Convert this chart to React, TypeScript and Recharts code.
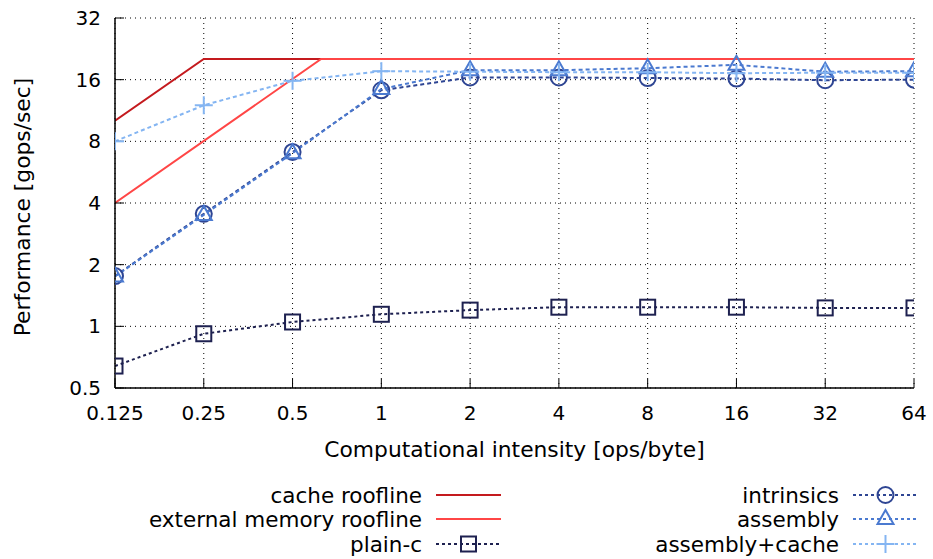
import React from 'react';
import { ComposedChart, Line, XAxis, YAxis, CartesianGrid, Label } from 'recharts';

const intensity = [0.125, 0.25, 0.5, 1, 2, 4, 8, 16, 32, 64];
const plainC = [0.64, 0.92, 1.05, 1.145, 1.2, 1.24, 1.24, 1.24, 1.23, 1.23];
const intrinsics = [1.76, 3.54, 7.1, 14.2, 16.4, 16.4, 16.3, 16.2, 15.9, 16.0];
const assembly = [1.75, 3.5, 7.0, 14.4, 17.8, 17.8, 18.2, 18.9, 17.5, 17.6];
const assemblyCache = [8.0, 12.0, 15.8, 17.6, 17.5, 17.4, 17.4, 17.2, 17.3, 17.3];

const cacheRoofX = [0.125, 0.25, 64];
const cacheRoofY = [10.1, 20.2, 20.2];
const extRoofX = [0.125, 0.625, 64];
const extRoofY = [4.0, 20.2, 20.2];

const yTicks = [0.5, 1, 2, 4, 8, 16, 32];

const FONT = '"DejaVu Sans", sans-serif';
const LABEL_SIZE = 21.8;
const LEGEND_SIZE = 21.5;

const C_CACHE = '#c41a1e';
const C_EXT = '#ff4646';
const C_PLAIN = '#1e2150';
const C_INTR = '#2e4593';
const C_ASM = '#4b7ad0';
const C_ASMC = '#84b5f2';

const table = intensity.map((x, i) => ({
  x,
  plainC: plainC[i],
  intrinsics: intrinsics[i],
  assembly: assembly[i],
  assemblyCache: assemblyCache[i],
}));
const cacheRoof = cacheRoofX.map((x, i) => ({ x, y: cacheRoofY[i] }));
const extRoof = extRoofX.map((x, i) => ({ x, y: extRoofY[i] }));

type Shape = 'circle' | 'triangle' | 'square' | 'plus';

function marker(shape: Shape, cx: number, cy: number, color: string, key?: string) {
  const sw = 2;
  if (shape === 'circle') {
    return <circle key={key} cx={cx} cy={cy} r={8} fill="none" stroke={color} strokeWidth={sw} />;
  }
  if (shape === 'triangle') {
    const pts = `${cx},${cy - 9} ${cx - 8},${cy + 5} ${cx + 8},${cy + 5}`;
    return <polygon key={key} points={pts} fill="none" stroke={color} strokeWidth={sw} />;
  }
  if (shape === 'square') {
    return <rect key={key} x={cx - 7.5} y={cy - 7.5} width={15} height={15} fill="none" stroke={color} strokeWidth={sw} />;
  }
  return (
    <g key={key}>
      <line x1={cx - 9} y1={cy} x2={cx + 9} y2={cy} stroke={color} strokeWidth={sw} />
      <line x1={cx} y1={cy - 9} x2={cx} y2={cy + 9} stroke={color} strokeWidth={sw} />
    </g>
  );
}

const dotFn = (shape: Shape, color: string) => (props: any) => {
  const { cx, cy, index } = props;
  if (cx == null || cy == null) return <g key={`e${index}`} />;
  return marker(shape, cx, cy, color, `${shape}-${index}`);
};

const legendLeft = [
  { name: 'cache roofline', color: C_CACHE, dash: undefined as string | undefined, shape: null as Shape | null },
  { name: 'external memory roofline', color: C_EXT, dash: undefined, shape: null },
  { name: 'plain-c', color: C_PLAIN, dash: '3 3', shape: 'square' as Shape },
];
const legendRight = [
  { name: 'intrinsics', color: C_INTR, dash: '3 3', shape: 'circle' as Shape },
  { name: 'assembly', color: C_ASM, dash: '3 3', shape: 'triangle' as Shape },
  { name: 'assembly+cache', color: C_ASMC, dash: '3 3', shape: 'plus' as Shape },
];

function LegendBlock() {
  const rowsY = [495, 519, 544];
  const cols = [
    { items: legendLeft, textEnd: 422, s0: 436, s1: 501 },
    { items: legendRight, textEnd: 839, s0: 853, s1: 918 },
  ];
  return (
    <svg width={933} height={559} style={{ position: 'absolute', left: 0, top: 0, pointerEvents: 'none' }}>
      {cols.map((col, ci) =>
        col.items.map((it, ri) => {
          const y = rowsY[ri];
          const mid = (col.s0 + col.s1) / 2;
          return (
            <g key={`${ci}-${ri}`}>
              <text x={col.textEnd} y={y} textAnchor="end" dominantBaseline="central" fontFamily={FONT} fontSize={LEGEND_SIZE} fill="#000">
                {it.name}
              </text>
              <line x1={col.s0} y1={y} x2={col.s1} y2={y} stroke={it.color} strokeWidth={2} strokeDasharray={it.dash} />
              {it.shape ? marker(it.shape, mid, y, it.color) : null}
            </g>
          );
        })
      )}
    </svg>
  );
}

export default function App() {
  const tickStyle = { fill: '#000', fontSize: 20, fontFamily: FONT };
  return (
    <div style={{ position: 'absolute', left: 0, top: 0, width: 933, height: 559, background: '#fff', fontFamily: FONT }}>
      <ComposedChart width={933} height={559} data={table} margin={{ top: 18, right: 19, bottom: 0, left: 0 }}>
        <CartesianGrid stroke="#000" strokeDasharray="1 4" strokeWidth={1} />
        <XAxis
          dataKey="x"
          type="number"
          scale="log"
          domain={[0.125, 64]}
          ticks={intensity}
          allowDataOverflow
          height={171}
          tickSize={-9}
          tickMargin={27}
          tick={tickStyle}
          axisLine={{ stroke: '#000', strokeWidth: 1.5 }}
          tickLine={{ stroke: '#000', strokeWidth: 1 }}
          interval={0}
        >
          <Label
            content={(p: any) => {
              const vb = p.viewBox || {};
              return (
                <text x={vb.x + vb.width / 2} y={vb.y + 61} textAnchor="middle" dominantBaseline="central" fontFamily={FONT} fontSize={LABEL_SIZE} fill="#000">
                  Computational intensity [ops/byte]
                </text>
              );
            }}
          />
        </XAxis>
        <XAxis
          xAxisId="top"
          orientation="top"
          type="number"
          scale="log"
          domain={[0.125, 64]}
          ticks={intensity}
          allowDataOverflow
          height={0}
          tickSize={-9}
          tick={false}
          axisLine={{ stroke: '#000', strokeWidth: 1.5 }}
          tickLine={{ stroke: '#000', strokeWidth: 1 }}
          interval={0}
        />
        <YAxis
          type="number"
          scale="log"
          domain={[0.5, 32]}
          ticks={yTicks}
          allowDataOverflow
          width={115}
          tickSize={-9}
          tickMargin={23}
          tick={tickStyle}
          axisLine={{ stroke: '#000', strokeWidth: 1.5 }}
          tickLine={{ stroke: '#000', strokeWidth: 1 }}
          interval={0}
        >
          <Label
            content={(p: any) => {
              const vb = p.viewBox || {};
              const cx = vb.x + 22;
              const cy = vb.y + vb.height / 2 + 4;
              return (
                <text x={cx} y={cy} transform={`rotate(-90, ${cx}, ${cy})`} textAnchor="middle" dominantBaseline="central" fontFamily={FONT} fontSize={LABEL_SIZE} fill="#000">
                  Performance [gops/sec]
                </text>
              );
            }}
          />
        </YAxis>
        <YAxis
          yAxisId="right"
          orientation="right"
          type="number"
          scale="log"
          domain={[0.5, 32]}
          ticks={yTicks}
          allowDataOverflow
          width={0}
          tickSize={-9}
          tick={false}
          axisLine={{ stroke: '#000', strokeWidth: 1.5 }}
          tickLine={{ stroke: '#000', strokeWidth: 1 }}
          interval={0}
        />
        <Line data={cacheRoof} dataKey="y" type="linear" stroke={C_CACHE} strokeWidth={2} dot={false} isAnimationActive={false} />
        <Line data={extRoof} dataKey="y" type="linear" stroke={C_EXT} strokeWidth={2} dot={false} isAnimationActive={false} />
        <Line dataKey="plainC" type="linear" stroke={C_PLAIN} strokeWidth={2} strokeDasharray="3 3" dot={dotFn('square', C_PLAIN)} isAnimationActive={false} />
        <Line dataKey="intrinsics" type="linear" stroke={C_INTR} strokeWidth={2} strokeDasharray="4 3" dot={dotFn('circle', C_INTR)} isAnimationActive={false} />
        <Line dataKey="assembly" type="linear" stroke={C_ASM} strokeWidth={2} strokeDasharray="4 3" dot={dotFn('triangle', C_ASM)} isAnimationActive={false} />
        <Line dataKey="assemblyCache" type="linear" stroke={C_ASMC} strokeWidth={2} strokeDasharray="4 3" dot={dotFn('plus', C_ASMC)} isAnimationActive={false} />
      </ComposedChart>
      <LegendBlock />
    </div>
  );
}
